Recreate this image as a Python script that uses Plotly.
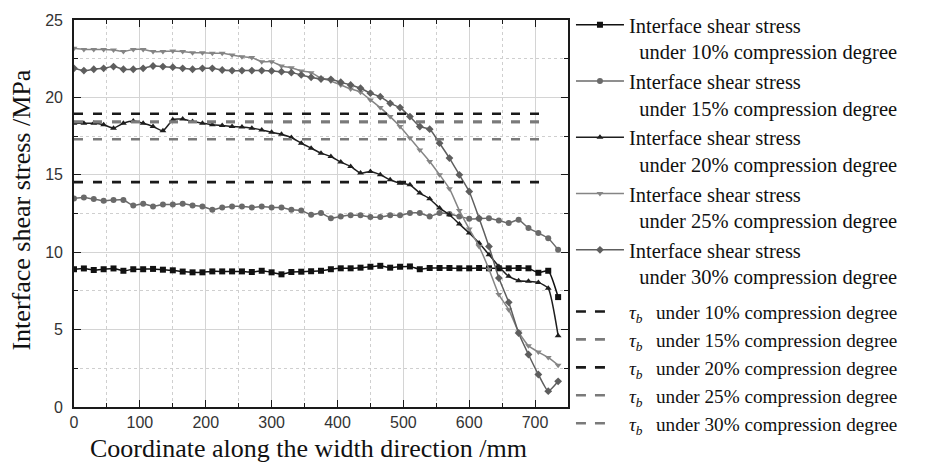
import plotly.graph_objects as go

# ---------------- data ----------------
x_mm = list(range(0, 736, 15))  # 0, 15, ..., 735

s10 = [8.9, 8.95, 8.85, 8.9, 8.95, 8.8, 8.9, 8.9, 8.92, 8.87, 8.83, 8.75, 8.7, 8.7, 8.76,
       8.76, 8.76, 8.76, 8.72, 8.8, 8.7, 8.57, 8.72, 8.74, 8.77, 8.8, 8.9, 8.96, 8.96, 9.0,
       9.06, 9.12, 9.0, 9.06, 9.08, 8.9, 8.98, 8.98, 8.98, 8.96, 8.96, 8.98, 8.96, 8.96, 8.96,
       8.98, 8.96, 8.67, 8.8, 7.1]
s15 = [13.47, 13.54, 13.43, 13.32, 13.37, 13.37, 13.02, 13.13, 12.96, 13.08, 13.08, 13.13,
       13.02, 12.96, 12.74, 12.89, 12.96, 12.96, 12.89, 12.96, 12.89, 12.89, 12.74, 12.7,
       12.42, 12.53, 12.2, 12.31, 12.38, 12.38, 12.27, 12.27, 12.38, 12.38, 12.53, 12.53,
       12.31, 12.53, 12.47, 12.31, 12.16, 12.16, 12.2, 12.05, 11.88, 12.1, 11.56, 11.24,
       10.9, 10.16]
s20 = [18.33, 18.33, 18.33, 18.23, 18.01, 18.33, 18.48, 18.33, 18.12, 17.84, 18.55, 18.61,
       18.44, 18.33, 18.23, 18.18, 18.12, 18.08, 18.01, 17.9, 17.75, 17.62, 17.41, 17.04,
       16.72, 16.4, 16.18, 15.82, 15.54, 15.11, 15.21, 15.0, 14.68, 14.46, 14.35, 13.82,
       13.45, 12.85, 12.42, 11.82, 11.24, 10.59, 9.84, 9.08, 8.44, 8.16, 8.12, 8.05, 7.67, 4.61]
s25 = [23.17, 23.1, 23.1, 23.1, 23.06, 22.96, 23.1, 23.1, 22.96, 22.96, 23.0, 22.96, 22.89,
       22.89, 22.85, 22.85, 22.74, 22.63, 22.57, 22.31, 22.31, 22.03, 21.92, 21.71, 21.6,
       21.24, 21.06, 20.8, 20.55, 20.34, 19.84, 19.34, 18.76, 18.12, 17.37, 16.61, 15.86,
       15.0, 14.1, 12.7, 11.5, 10.37, 8.9, 7.26, 6.29, 4.85, 3.95, 3.55, 3.2, 2.7]
s30 = [21.88, 21.73, 21.82, 21.88, 21.99, 21.82, 21.82, 21.88, 22.03, 21.99, 21.95, 21.88,
       21.82, 21.88, 21.88, 21.77, 21.73, 21.73, 21.73, 21.73, 21.71, 21.66, 21.6, 21.45,
       21.3, 21.19, 21.17, 20.98, 20.8, 20.59, 20.27, 20.05, 19.62, 19.34, 18.76, 18.12,
       17.95, 17.04, 16.08, 15.0, 13.92, 12.2, 10.37, 8.33, 6.76, 4.78, 3.39, 2.1, 1.02, 1.66]

degrees = ["10%", "15%", "20%", "25%", "30%"]
tau_b = [14.53, 17.3, 18.94, 18.42, 18.42]
tau_x = [0, 720]

x_ticks = [0, 100, 200, 300, 400, 500, 600, 700]
y_ticks = [0, 5, 10, 15, 20, 25]

x_title = "Coordinate along the width direction /mm"
y_title = "Interface shear stress /MPa"

# ---------------- styles ----------------
series = [s10, s15, s20, s25, s30]
line_colors = ["#111111", "#6a6a6a", "#1e1e1e", "#858585", "#5e5e5e"]
symbols = ["square", "circle", "triangle-up", "triangle-down", "diamond"]
tau_colors = ["#1a1a1a", "#7a7a7a", "#1a1a1a", "#7a7a7a", "#7a7a7a"]

SERIF = "Liberation Serif, Times New Roman, serif"
SANS = "Liberation Sans, Arial, sans-serif"

fig = go.Figure()

for deg, ys, col, sym in zip(degrees, series, line_colors, symbols):
    fig.add_trace(go.Scatter(
        x=x_mm, y=ys, mode="lines+markers", legend="legend",
        name="Interface shear stress<br>\u00a0\u00a0under " + deg + " compression degree",
        line=dict(color=col, width=1.5, shape="spline", smoothing=0.5),
        marker=dict(symbol=sym, size=6, color=col),
    ))

for deg, tb, col in zip(degrees, tau_b, tau_colors):
    fig.add_trace(go.Scatter(
        x=tau_x, y=[tb, tb], mode="lines", showlegend=False,
        line=dict(color=col, width=2.6, dash="9px,10px"),
        hoverinfo="skip",
    ))
for deg, tb, col in zip(degrees, tau_b, tau_colors):
    fig.add_trace(go.Scatter(
        x=[None], y=[None], mode="lines", legend="legend2",
        name="<i>\u03c4</i><sub><i>b</i></sub>\u00a0\u00a0\u2009under " + deg + " compression degree",
        line=dict(color=col, width=2.6, dash="10px,9px,10px,60px"),
    ))

axis_common = dict(
    showline=True, linecolor="#1a1a1a", linewidth=1.6, mirror="ticks",
    ticks="inside", ticklen=7, tickwidth=1.4, tickcolor="#1a1a1a",
    showgrid=True, gridcolor="#d4d4d4", gridwidth=1.4, zeroline=False,
    tickfont=dict(family=SANS, size=16, color="#333333"),
)

fig.update_xaxes(
    range=[0, 750], tickvals=x_ticks,
    minor=dict(dtick=50, tick0=0, ticks="inside", ticklen=4, tickwidth=1.2,
               tickcolor="#1a1a1a", showgrid=True, gridcolor="#cfcfcf",
               griddash="dot", gridwidth=1),
    **axis_common,
)
fig.update_yaxes(
    range=[0, 25], tickvals=y_ticks, ticklabelstandoff=6,
    minor=dict(dtick=2.5, tick0=0, ticks="inside", ticklen=4, tickwidth=1.2,
               tickcolor="#1a1a1a", showgrid=True, gridcolor="#cfcfcf",
               griddash="dot", gridwidth=1),
    **axis_common,
)

fig.add_annotation(
    text=x_title, xref="paper", yref="paper", x=0.4757, y=-0.108,
    xanchor="center", yanchor="middle", showarrow=False,
    font=dict(family=SERIF, size=26, color="#111111"),
)
fig.add_annotation(
    text=y_title, xref="paper", yref="paper", x=-0.107, y=0.508,
    xanchor="center", yanchor="middle", showarrow=False, textangle=-90,
    font=dict(family=SERIF, size=26, color="#111111"),
)

legend_common = dict(
    xanchor="left", x=1.006,
    itemwidth=48, valign="top", bgcolor="rgba(0,0,0,0)", tracegroupgap=0,
)

fig.update_layout(
    width=945, height=465,
    margin=dict(l=74, r=377, t=20, b=57.5, autoexpand=False),
    paper_bgcolor="white", plot_bgcolor="white",
    showlegend=True,
    legend=dict(y=0.662, yanchor="middle",
                font=dict(family=SERIF, size=20.5, color="#111111"), **legend_common),
    legend2=dict(y=0.296, yanchor="top",
                 font=dict(family=SERIF, size=19.2, color="#111111"), **legend_common),
)

fig.write_html("out.html",
               config={"displayModeBar": False},
               post_script="document.body.style.margin='0';document.body.style.overflow='hidden';")
